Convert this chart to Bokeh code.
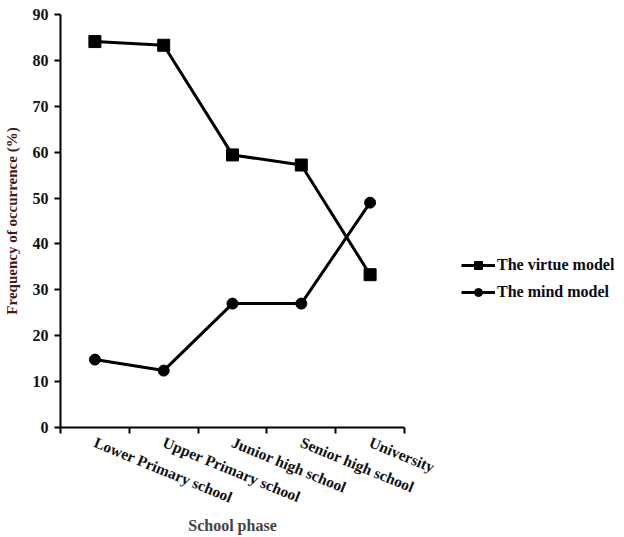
from bokeh.plotting import figure
from bokeh.models import FixedTicker, Legend, LegendItem, Range1d
from bokeh.embed import file_html
from bokeh.resources import INLINE

phases = ["Lower Primary school", "Upper Primary school", "Junior high school",
          "Senior high school", "University"]
virtue = [84.1, 83.3, 59.4, 57.2, 33.3]
mind = [14.8, 12.4, 27.0, 27.0, 49.0]
y_ticks = [0, 10, 20, 30, 40, 50, 60, 70, 80, 90]

FONT = "Liberation Serif"

xs = [i + 0.5 for i in range(len(phases))]

p = figure(frame_width=344, frame_height=413, output_backend="svg", toolbar_location=None,
           x_range=Range1d(0, len(phases)), y_range=Range1d(0, 90),
           min_border_left=58, min_border_top=14, min_border_right=206,
           min_border_bottom=90)
p.outline_line_color = None
p.xgrid.visible = False
p.ygrid.visible = False

r1 = p.line(xs, virtue, line_width=3, color="black")
m1 = p.scatter(xs, virtue, marker="square", size=12, color="black")
r2 = p.line(xs, mind, line_width=3, color="black")
m2 = p.scatter(xs, mind, marker="circle", size=11, color="black")

# y axis
p.yaxis.ticker = FixedTicker(ticks=y_ticks)
p.yaxis.minor_tick_line_color = None
p.yaxis.major_tick_in = 0
p.yaxis.major_tick_out = 6
p.yaxis.axis_line_width = 2
p.yaxis.major_tick_line_width = 2
p.yaxis.major_label_text_font = FONT
p.yaxis.major_label_text_font_style = "bold"
p.yaxis.major_label_text_font_size = "16px"
p.yaxis.major_label_text_color = "#111111"
p.yaxis.major_label_standoff = 6
p.yaxis.axis_label = "Frequency of occurrence (%)"
p.yaxis.axis_label_text_font = FONT
p.yaxis.axis_label_text_font_style = "bold"
p.yaxis.axis_label_text_font_size = "15px"
p.yaxis.axis_label_text_color = "#4a1818"
p.yaxis.axis_label_standoff = 10

# x axis
p.xaxis.ticker = FixedTicker(ticks=xs, minor_ticks=list(range(len(phases) + 1)))
p.xaxis.major_label_overrides = {x: name for x, name in zip(xs, phases)}
p.xaxis.major_tick_in = 0
p.xaxis.major_tick_out = 0
p.xaxis.minor_tick_in = 0
p.xaxis.minor_tick_out = 6
p.xaxis.minor_tick_line_width = 2
p.xaxis.minor_tick_line_color = "black"
p.xaxis.axis_line_width = 2
p.xaxis.major_label_orientation = -0.39
p.xaxis.major_label_text_font = FONT
p.xaxis.major_label_text_font_style = "bold"
p.xaxis.major_label_text_font_size = "15.5px"
p.xaxis.major_label_text_color = "#111111"
p.xaxis.major_label_standoff = 8
p.xaxis.axis_label = "School phase"
p.xaxis.axis_label_text_font = FONT
p.xaxis.axis_label_text_font_style = "bold"
p.xaxis.axis_label_text_font_size = "16px"
p.xaxis.axis_label_standoff = 0

legend = Legend(items=[LegendItem(label="The virtue model", renderers=[r1, m1]),
                       LegendItem(label="The mind model", renderers=[r2, m2])],
                location=(57, 125), border_line_color=None, background_fill_alpha=0,
                glyph_width=34, glyph_height=20, spacing=7, label_standoff=2,
                label_text_font=FONT, label_text_font_style="bold",
                label_text_font_size="16px", label_text_color="#0a0a1a",
                padding=4, margin=0)
p.add_layout(legend, "right")

open("out.html", "w").write(file_html(p, INLINE))
